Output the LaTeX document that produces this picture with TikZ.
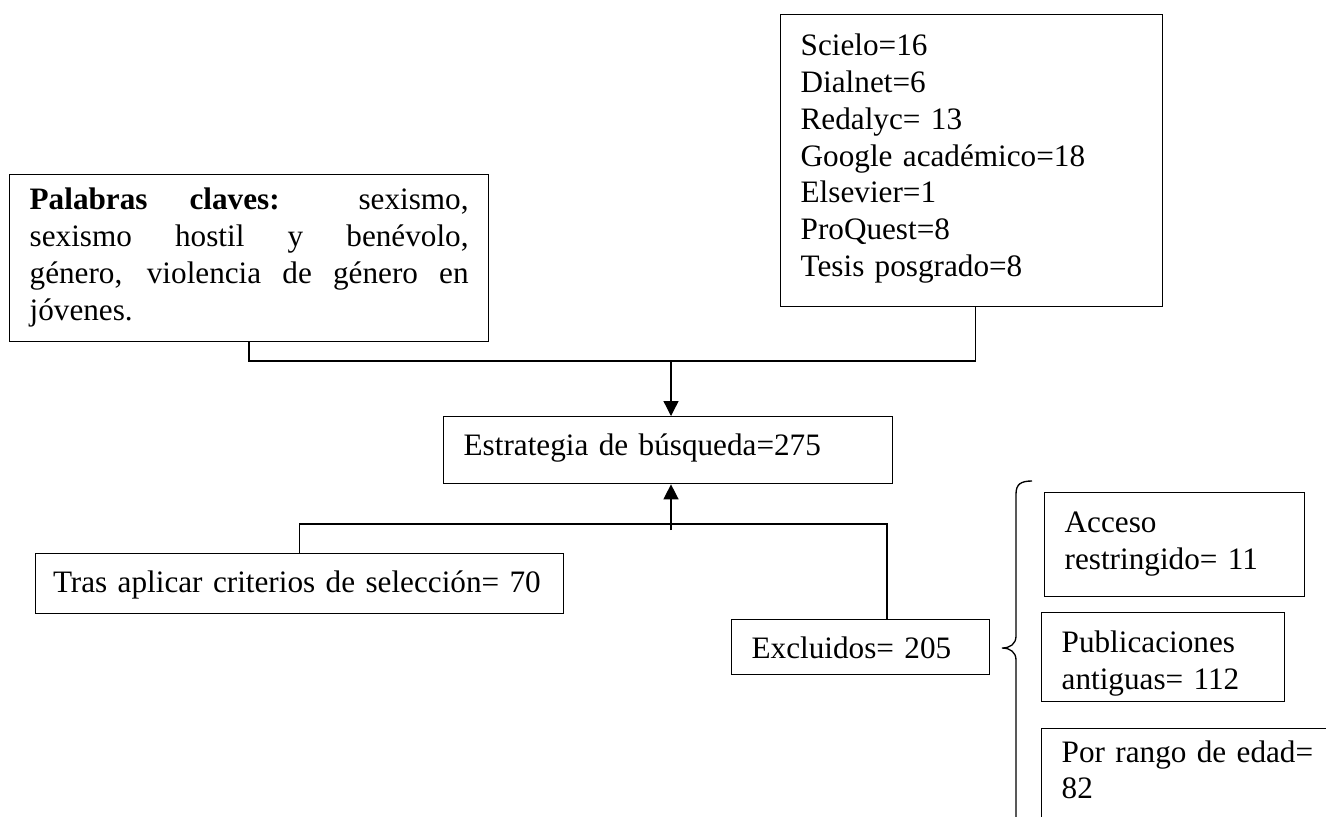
\documentclass[tikz,border=0pt]{standalone}
\usepackage{fontspec}
\setmainfont{Liberation Serif}
\usepackage{tikz}
\usetikzlibrary{arrows.meta}

\begin{document}
\begin{tikzpicture}[x=0.375pt,y=-0.375pt,>={Triangle[length=5.6pt,width=5.6pt]},line width=0.5pt,box node/.style={draw,anchor=north west,inner xsep=7.5pt,inner ysep=0pt,align=left,font=\fontsize{11.7}{13.8}\selectfont,text height=14.625pt}]
			\useasboundingbox (0,0) rectangle (1326,816);
			\clip (0,0) rectangle (1326,816);
			
			\node[box node,align=justify,text width=164.6pt,text height=13.125pt,text depth=49.5pt] (1) at (9,174) {\textbf{Palabras claves:} sexismo,\linebreak sexismo hostil y benévolo,\linebreak género, violencia de género en\linebreak jóvenes.};
			\node[box node,text width=128.25pt,text height=15.375pt,text depth=94.125pt] (2) at (780,14) {Scielo=16\\Dialnet=6\\Redalyc= 13\\Google académico=18\\Elsevier=1\\ProQuest=8\\Tesis posgrado=8};
			
			\node[box node,text width=153.375pt,text depth=10.5pt] (3) at (443,416) {Estrategia de búsqueda=275};
			\node[box node,inner xsep=6.5pt,text width=185pt,text depth=7.875pt] (4) at (35,553) {Tras aplicar criterios de selección= 70};
			\node[box node,text width=81.75pt,text depth=6pt] (5) at (731,619) {Excluidos= 205};
			
			\node[box node,text width=82.5pt,text height=15pt,text depth=24pt] (6) at (1044,492) {Acceso\\restringido= 11};
			\node[box node,text width=76.125pt,text height=15pt,text depth=18.375pt] (7) at (1041,612) {Publicaciones\\antiguas= 112};
			\node[box node,text width=105pt,text height=12.5pt,text depth=28.75pt] (8) at (1041,728) {Por rango de edad=\\82};
			
			\coordinate (9) at (671,361);
			\coordinate (10) at (671,530);
			\coordinate (11) at (887,524);
			
			\draw (1.south) |- (9) -| ([xshift=1.5pt]2.south);
			\draw[->] (9) -- (9 |- 3.north);
			\draw (4.north) |- (11) -- (11 |- 5.north);
			\draw[->] (10) -- (10 |- 3.south);
			
			\draw (1032,481) .. controls (1021,481) and (1016,484) .. (1016,494) -- (1016,636) .. controls (1016,644) and (1010,648) .. (1002,648) .. controls (1010,648) and (1016,652) .. (1016,660) -- (1016,830);
			
			\end{tikzpicture}
\end{document}
